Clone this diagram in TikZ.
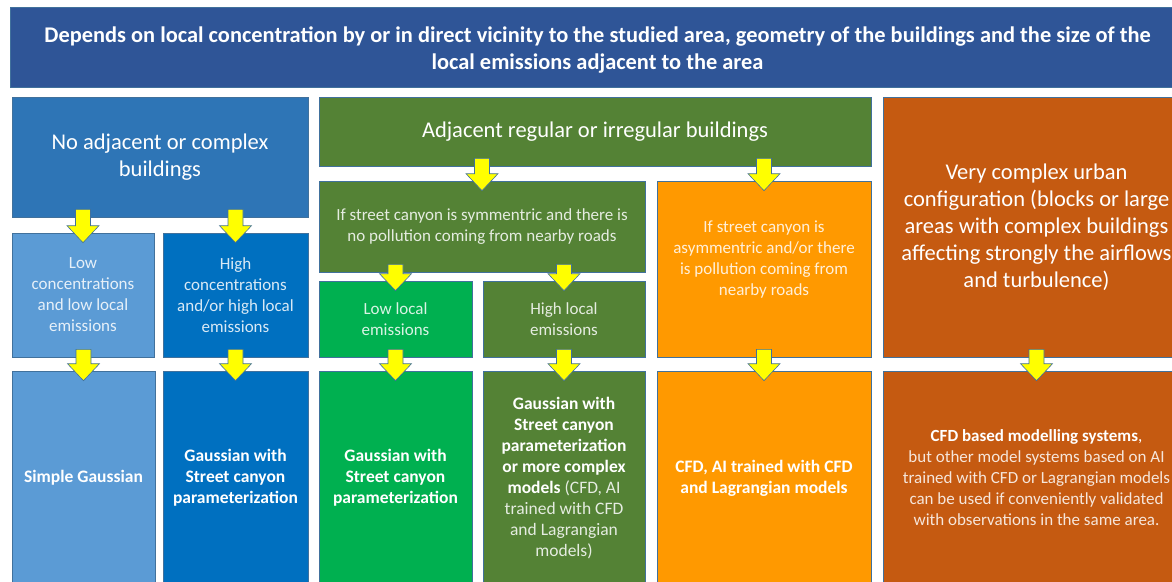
\documentclass[tikz,border=0pt]{standalone}
\usepackage{fontspec}
\setmainfont{Carlito}
\usetikzlibrary{calc}

\definecolor{headblue}{RGB}{47,85,151}
\definecolor{midblue}{RGB}{46,117,182}
\definecolor{lightblue}{RGB}{91,155,213}
\definecolor{deepblue}{RGB}{0,112,192}
\definecolor{olive}{RGB}{84,130,53}
\definecolor{brightgreen}{RGB}{0,176,80}
\definecolor{amber}{RGB}{255,153,0}
\definecolor{rust}{RGB}{197,90,17}
\definecolor{edgeblue}{RGB}{65,113,156}
\definecolor{arrowyellow}{RGB}{255,255,0}

\tikzset{
  cell/.style={draw=edgeblue, line width=0.6pt, text=white, align=center, inner sep=0pt},
  big/.style={font=\fontsize{22.5}{27}\selectfont},
  small/.style={font=\fontsize{17}{21}\selectfont, text opacity=0.85},
  strong/.style={font=\fontsize{17.5}{21}\selectfont\bfseries},
  blockarrow/.style={fill=arrowyellow, draw=edgeblue, line width=0.6pt, line join=miter}
}

% yellow block arrow from the bottom of #1 into the top of #2
\newcommand{\flowarrow}[2]{%
  \coordinate (t) at ($(#2.north |- #1.south)+(0,-8)$);
  \coordinate (h) at ($(#2.north)+(0,10)$);
  \draw[blockarrow] (h) -- ($(h)+(-16,-17)$) -- ($(h)+(-7.5,-17)$) -- ($(t)+(-7.5,0)$)
    -- ($(t)+(7.5,0)$) -- ($(h)+(7.5,-17)$) -- ($(h)+(16,-17)$) -- cycle;
}

\begin{document}
\begin{tikzpicture}[x=1pt, y=-1pt]
  \useasboundingbox (0,0) rectangle (1172,581);
  \fill[white] (0,0) rectangle (1172,581);
  \clip (0,0) rectangle (1172,581);

  % header across the whole width
  \node[cell, fill=headblue, minimum width=1175pt, minimum height=80pt,
    label={[yshift=-3pt, text=white, align=center, font=\fontsize{22.4}{27}\selectfont\bfseries]center:%
      Depends on local concentration by or in direct vicinity to the studied area, geometry of the buildings and the size of the\\
      local emissions adjacent to the area}] (head) at (597.5,47) {};

  % three kinds of surroundings
  \node[cell, big, fill=midblue, minimum width=296pt, minimum height=120pt] (noadj) at (160,157)
    {No adjacent or complex\\ buildings};
  \node[cell, big, fill=olive, minimum width=552pt, minimum height=69pt] (adj) at (595,131.5)
    {Adjacent regular or irregular buildings};
  \node[cell, big, fill=rust, minimum width=307pt, minimum height=260pt] (vcomplex) at (1036.5,227)
    {Very complex urban\\ configuration (blocks or large\\ areas with complex buildings\\
     affecting strongly the airflows\\ and turbulence)};

  % conditions
  \node[cell, small, fill=lightblue, minimum width=142pt, minimum height=124pt] (lowconc) at (83,295)
    {Low\\ concentrations\\ and low local\\ emissions};
  \node[cell, small, fill=deepblue, minimum width=145pt, minimum height=124pt] (highconc) at (235.5,295)
    {High\\ concentrations\\ and/or high local\\ emissions};
  \node[cell, small, fill=olive, minimum width=326pt, minimum height=91pt] (sym) at (482,226.5)
    {If street canyon is symmentric and there is\\ no pollution coming from nearby roads};
  \node[cell, small, fill=amber, minimum width=214pt, minimum height=176pt] (asym) at (764,269)
    {If street canyon is\\ asymmentric and/or there\\ is pollution coming from\\ nearby roads\\ \mbox{}};
  \node[cell, small, fill=brightgreen, minimum width=153pt, minimum height=76pt] (lowloc) at (395.5,319)
    {Low local\\ emissions};
  \node[cell, small, fill=olive, minimum width=162pt, minimum height=76pt] (highloc) at (564,319)
    {High local\\ emissions};

  % recommended models
  \node[cell, strong, fill=lightblue, minimum width=143pt, minimum height=214pt] (simple) at (83.5,478)
    {Simple Gaussian};
  \node[cell, strong, fill=deepblue, minimum width=145pt, minimum height=214pt] (gscan) at (235.5,478)
    {Gaussian with\\ Street canyon\\ parameterization};
  \node[cell, strong, fill=brightgreen, minimum width=153pt, minimum height=214pt] (gscanb) at (395.5,478)
    {Gaussian with\\ Street canyon\\ parameterization};
  \node[cell, strong, fill=olive, minimum width=162pt, minimum height=214pt] (gcomplex) at (564,478)
    {Gaussian with\\ Street canyon\\ parameterization\\ or more complex\\
     models {\mdseries\color{white!85!olive}(CFD, AI}\\
     {\mdseries\color{white!85!olive}trained with CFD}\\
     {\mdseries\color{white!85!olive}and Lagrangian}\\
     {\mdseries\color{white!85!olive}models)}};
  \node[cell, strong, fill=amber, minimum width=214pt, minimum height=214pt] (cfdai) at (764,478)
    {CFD, AI trained with CFD\\ and Lagrangian models};
  \node[cell, small, text opacity=1, fill=rust, minimum width=307pt, minimum height=214pt] (cfdbased) at (1036.5,478)
    {\textbf{CFD based modelling systems},\\
     {\color{white!85!rust}but other model systems based on AI}\\
     {\color{white!85!rust}trained with CFD or Lagrangian models}\\
     {\color{white!85!rust}can be used if conveniently validated}\\
     {\color{white!85!rust}with observations in the same area.}};

  % arrows between levels
  \flowarrow{noadj}{lowconc}
  \flowarrow{noadj}{highconc}
  \flowarrow{adj}{sym}
  \flowarrow{adj}{asym}
  \flowarrow{sym}{lowloc}
  \flowarrow{sym}{highloc}
  \flowarrow{lowconc}{simple}
  \flowarrow{highconc}{gscan}
  \flowarrow{lowloc}{gscanb}
  \flowarrow{highloc}{gcomplex}
  \flowarrow{asym}{cfdai}
  \flowarrow{vcomplex}{cfdbased}
\end{tikzpicture}
\end{document}
